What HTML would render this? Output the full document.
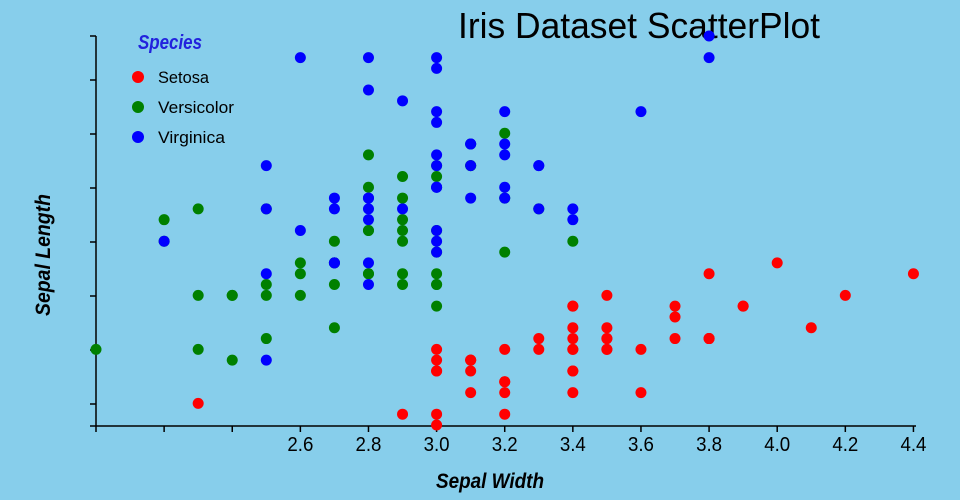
<!DOCTYPE html>
<html><head><meta charset="utf-8"><style>
html,body{margin:0;padding:0;background:#87ceeb;}
svg{display:block;font-family:"Liberation Sans Narrow","Liberation Sans",sans-serif;}
</style></head><body>
<svg id="s" width="960" height="500" xmlns="http://www.w3.org/2000/svg">
<rect width="960" height="500" fill="#87ceeb"/>
<text x="639" y="38" font-size="36" text-anchor="middle" textLength="362" lengthAdjust="spacingAndGlyphs" fill="#000">Iris Dataset ScatterPlot</text>
<g id="axes" stroke="#000" stroke-width="1.5" fill="none">
<line x1="96" y1="36" x2="96" y2="426"/>
<line x1="96" y1="426" x2="916" y2="426"/>
</g>
<g id="ticks" stroke="#000" stroke-width="1.5"></g>
<g id="labels" font-size="20" text-anchor="middle" fill="#000"></g>
<text x="490" y="488" font-size="21" font-style="italic" font-weight="bold" text-anchor="middle" textLength="108" lengthAdjust="spacingAndGlyphs">Sepal Width</text>
<text transform="translate(50,255) rotate(-90)" font-size="21" font-style="italic" font-weight="bold" text-anchor="middle" textLength="122" lengthAdjust="spacingAndGlyphs">Sepal Length</text>
<g id="pts"></g>
<text x="170" y="49" font-size="20" font-style="italic" font-weight="bold" fill="#2222dd" text-anchor="middle" textLength="64" lengthAdjust="spacingAndGlyphs">Species</text>
<circle cx="138" cy="77" r="6" fill="#ff0000"/><text x="158" y="83" font-size="17" textLength="51" lengthAdjust="spacingAndGlyphs">Setosa</text>
<circle cx="138" cy="107" r="6" fill="#008000"/><text x="158" y="113" font-size="17" textLength="76" lengthAdjust="spacingAndGlyphs">Versicolor</text>
<circle cx="138" cy="137" r="6" fill="#0000ff"/><text x="158" y="143" font-size="17" textLength="67" lengthAdjust="spacingAndGlyphs">Virginica</text>
</svg>
<script>
var NS="http://www.w3.org/2000/svg";
function el(t,a,p){var e=document.createElementNS(NS,t);for(var k in a)e.setAttribute(k,a[k]);document.getElementById(p).appendChild(e);return e;}
function X(w){return 96+(w-2.0)*340.6;}
function Y(l){return 425-(l-4.3)*108.06;}
[36,80,134,188,242,296,350,404,426].forEach(function(y){el("line",{x1:90,y1:y,x2:96,y2:y},"ticks");});
for(var i=0;i<=12;i++){var w=2.0+i*0.2,x=X(w);el("line",{x1:x,y1:426,x2:x,y2:432},"ticks");
 if(i>=3){var t=el("text",{x:x,y:451,textLength:26,lengthAdjust:"spacingAndGlyphs"},"labels");t.textContent=w.toFixed(1);}}
var set="5.1,3.5;4.9,3.0;4.7,3.2;4.6,3.1;5.0,3.6;5.4,3.9;4.6,3.4;5.0,3.4;4.4,2.9;4.9,3.1;5.4,3.7;4.8,3.4;4.8,3.0;4.3,3.0;5.8,4.0;5.7,4.4;5.4,3.9;5.1,3.5;5.7,3.8;5.1,3.8;5.4,3.4;5.1,3.7;4.6,3.6;5.1,3.3;4.8,3.4;5.0,3.0;5.0,3.4;5.2,3.5;5.2,3.4;4.7,3.2;4.8,3.1;5.4,3.4;5.2,4.1;5.5,4.2;4.9,3.1;5.0,3.2;5.5,3.5;4.9,3.1;4.4,3.0;5.1,3.4;5.0,3.5;4.5,2.3;4.4,3.2;5.0,3.5;5.1,3.8;4.8,3.0;5.1,3.8;4.6,3.2;5.3,3.7;5.0,3.3";
var ver="7.0,3.2;6.4,3.2;6.9,3.1;5.5,2.3;6.5,2.8;5.7,2.8;6.3,3.3;4.9,2.4;6.6,2.9;5.2,2.7;5.0,2.0;5.9,3.0;6.0,2.2;6.1,2.9;5.6,2.9;6.7,3.1;5.6,3.0;5.8,2.7;6.2,2.2;5.6,2.5;5.9,3.2;6.1,2.8;6.3,2.5;6.1,2.8;6.4,2.9;6.6,3.0;6.8,2.8;6.7,3.0;6.0,2.9;5.7,2.6;5.5,2.4;5.5,2.4;5.8,2.7;6.0,2.7;5.4,3.0;6.0,3.4;6.7,3.1;6.3,2.3;5.6,3.0;5.5,2.5;5.5,2.6;6.1,3.0;5.8,2.6;5.0,2.3;5.6,2.7;5.7,3.0;5.7,2.9;6.2,2.9;5.1,2.5;5.7,2.8";
var vir="6.3,3.3;5.8,2.7;7.1,3.0;6.3,2.9;6.5,3.0;7.6,3.0;4.9,2.5;7.3,2.9;6.7,2.5;7.2,3.6;6.5,3.2;6.4,2.7;6.8,3.0;5.7,2.5;5.8,2.8;6.4,3.2;6.5,3.0;7.7,3.8;7.7,2.6;6.0,2.2;6.9,3.2;5.6,2.8;7.7,2.8;6.3,2.7;6.7,3.3;7.2,3.2;6.2,2.8;6.1,3.0;6.4,2.8;7.2,3.0;7.4,2.8;7.9,3.8;6.4,2.8;6.3,2.8;6.1,2.6;7.7,3.0;6.3,3.4;6.4,3.1;6.0,3.0;6.9,3.1;6.7,3.1;6.9,3.1;5.8,2.7;6.8,3.2;6.7,3.3;6.7,3.0;6.3,2.5;6.5,3.0;6.2,3.4;5.9,3.0";
[[set,"#ff0000"],[ver,"#008000"],[vir,"#0000ff"]].forEach(function(s){
 s[0].split(";").forEach(function(p){var a=p.split(",");el("circle",{cx:X(+a[1]),cy:Y(+a[0]),r:5.5,fill:s[1]},"pts");});
});
</script>
</body></html>
